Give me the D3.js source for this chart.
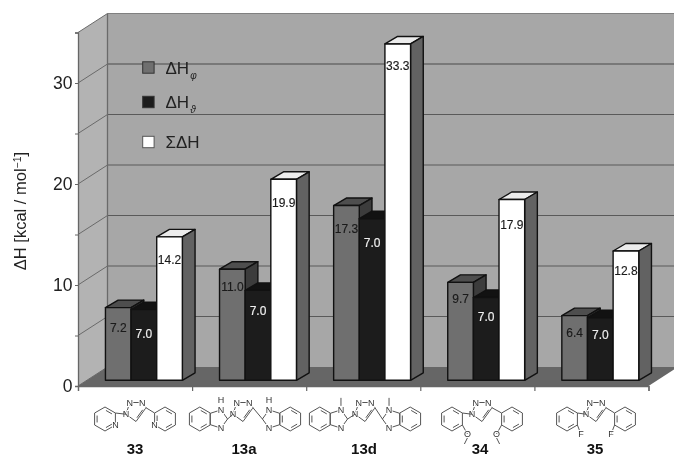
<!DOCTYPE html>
<html>
<head>
    <title>Enthalpy contributions</title>
    <style>
        html, body { margin: 0; padding: 0; background: #fff; }
        svg { display: block; filter: blur(0.4px); }
        text { font-family: "Liberation Sans", Arial, sans-serif; }
    </style>
    <script src="https://d3js.org/d3.v7.min.js"></script>
</head>
<body>
<div id="chart"></div>
<script>
// values
var categories = ["33", "13a", "13d", "34", "35"];
var seriesKeys = ["phi", "theta", "sum"];
var phiValues = [7.2, 11.0, 17.3, 9.7, 6.4];
var thetaValues = [7.0, 8.9, 16.0, 8.2, 6.2];   // drawn height of the black bars
var sumValues = [14.2, 19.9, 33.3, 17.9, 12.8];
var phiLabels = ["7.2", "11.0", "17.3", "9.7", "6.4"];
var thetaLabels = ["7.0", "7.0", "7.0", "7.0", "7.0"];   // printed on the bars as 7.0
var sumLabels = ["14.2", "19.9", "33.3", "17.9", "12.8"];
var yTicks = [0, 5, 10, 15, 20, 25, 30, 35];
var yTickLabels = ["0", "10", "20", "30"];

var width = 674, height = 457;
var x0 = 78, x1 = 648.5, y0 = 386;
var wallDx = 29.5, wallDy = -19;   // depth of the 3d box
var barShift = 0.3;                // where the bars stand inside that depth
var barDx = 12.7, barDy = -7.5;    // depth of one bar

var svg = d3.select("#chart").append("svg")
    .attr("width", width)
    .attr("height", height);

var x = d3.scaleBand().domain(categories).range([x0, x1]);
var xInner = d3.scaleBand().domain(seriesKeys).range([0, x.bandwidth()]).paddingOuter(0.725);
var y = d3.scaleLinear().domain([0, 35]).range([y0, y0 - 353.5]);

var colors = {
    phi: { front: "#6f6f6f", top: "#4e4e4e", side: "#3c3c3c" },
    theta: { front: "#1c1c1c", top: "#121212", side: "#1a1a1a" },
    sum: { front: "#ffffff", top: "#ececec", side: "#626262" }
};

function pts(a) { return a.map(function(p) { return p.join(","); }).join(" "); }

// walls and floor
svg.append("polygon").attr("fill", "#a7a7a7")
    .attr("points", pts([[x0 + wallDx, y(35) + wallDy], [width + 5, y(35) + wallDy], [width + 5, y0 + wallDy], [x0 + wallDx, y0 + wallDy]]));
svg.append("polygon").attr("fill", "#b3b3b3")
    .attr("points", pts([[x0, y(35)], [x0 + wallDx, y(35) + wallDy], [x0 + wallDx, y0 + wallDy], [x0, y0]]));
svg.append("polygon").attr("fill", "#666666")
    .attr("points", pts([[x0, y0], [x0 + wallDx, y0 + wallDy], [x1 + wallDx, y0 + wallDy], [x1, y0]]));

// gridlines
yTicks.forEach(function(t) {
    if (t === 0) return;
    svg.append("line")
        .attr("x1", x0 + wallDx).attr("x2", width + 5)
        .attr("y1", y(t) + wallDy).attr("y2", y(t) + wallDy)
        .attr("stroke", t === 35 ? "#808080" : (t === 30 ? "#4a4a4a" : "#5a5a5a"))
        .attr("stroke-width", 1.2);
    svg.append("line")
        .attr("x1", x0).attr("x2", x0 + wallDx)
        .attr("y1", y(t)).attr("y2", y(t) + wallDy)
        .attr("stroke", "#6a6a6a").attr("stroke-width", 1);
});
svg.append("line")
    .attr("x1", x0 + wallDx).attr("x2", x0 + wallDx)
    .attr("y1", y(35) + wallDy).attr("y2", y0 + wallDy)
    .attr("stroke", "#6a6a6a").attr("stroke-width", 1.3);
svg.append("line")
    .attr("x1", x0).attr("x2", x0 + wallDx)
    .attr("y1", y0).attr("y2", y0 + wallDy)
    .attr("stroke", "#666").attr("stroke-width", 1);

// axes
var yAxis = d3.axisLeft(y).tickValues(yTicks).tickSize(3).tickFormat(function(d) {
    return yTickLabels.indexOf(String(d)) >= 0 ? d : "";
});
var yG = svg.append("g").attr("transform", "translate(" + x0 + ",0)").call(yAxis);
yG.select(".domain").attr("stroke", "#666").attr("stroke-width", 1.3);
yG.selectAll("line").attr("stroke", "#666");
yG.selectAll("text")
    .attr("x", -5.5)
    .style("font-size", "17.5px")
    .style("font-family", '"Liberation Sans", Arial, sans-serif')
    .attr("fill", "#222");

var xEdge = d3.scaleLinear().domain([0, categories.length]).range([x0, x1]);
var xAxis = d3.axisBottom(xEdge).tickValues(d3.range(categories.length + 1)).tickSize(5).tickSizeOuter(5).tickFormat("");
var xG = svg.append("g").attr("transform", "translate(0," + y0 + ")").call(xAxis);
xG.select(".domain").attr("stroke", "#666").attr("stroke-width", 1.3);
xG.selectAll("line").attr("stroke", "#666").attr("stroke-width", 1.2);

// bars
var seriesValues = { phi: phiValues, theta: thetaValues, sum: sumValues };
var seriesLabels = { phi: phiLabels, theta: thetaLabels, sum: sumLabels };
var shiftX = wallDx * barShift, shiftY = wallDy * barShift;

categories.forEach(function(cat, i) {
    seriesKeys.forEach(function(key) {
        var left = x(cat) + xInner(key) + shiftX;
        var right = left + xInner.bandwidth();
        var top = y(seriesValues[key][i]) + shiftY;
        var bottom = y(0) + shiftY;
        var g = svg.append("g")
            .attr("stroke", "#111").attr("stroke-width", 1.4).attr("stroke-linejoin", "round");
        g.append("polygon").attr("fill", colors[key].top)
            .attr("points", pts([[left, top], [left + barDx, top + barDy], [right + barDx, top + barDy], [right, top]]));
        g.append("polygon").attr("fill", colors[key].side)
            .attr("points", pts([[right, top], [right + barDx, top + barDy], [right + barDx, bottom + barDy], [right, bottom]]));
        g.append("rect").attr("fill", colors[key].front)
            .attr("x", left).attr("y", top)
            .attr("width", right - left).attr("height", bottom - top);
    });
});

// bar labels sit a little differently on every bar in the original
var labelDrop = [[20, 24, 23], [18, 20, 23], [23, 24, 22], [16, 19, 25], [17, 17, 20]];
categories.forEach(function(cat, i) {
    seriesKeys.forEach(function(key, k) {
        var ink = key === "theta" ? "#f0f0f0" : "#1a1a1a";
        svg.append("text")
            .attr("x", x(cat) + xInner(key) + shiftX + xInner.bandwidth() / 2)
            .attr("y", y(seriesValues[key][i]) + shiftY + labelDrop[i][k])
            .attr("dy", "0.35em")
            .attr("text-anchor", "middle")
            .attr("font-size", 12)
            .attr("fill", ink)
            .attr("stroke", ink).attr("stroke-width", 0.15)
            .text(seriesLabels[key][i]);
    });
});

// legend
var legendNames = ["ΔH", "ΔH", "ΣΔH"];
var legendSubs = ["φ", "ϑ", ""];
var legendRows = [67.5, 102, 142];
seriesKeys.forEach(function(key, i) {
    svg.append("rect")
        .attr("x", 142.7).attr("y", legendRows[i] - 5.7)
        .attr("width", 11.4).attr("height", 11.4)
        .attr("fill", colors[key].front)
        .attr("stroke", key === "sum" ? "#555" : "#333").attr("stroke-width", 1);
    var t = svg.append("text")
        .attr("x", 165.5).attr("y", legendRows[i] + 6)
        .attr("font-size", 17).attr("fill", "#222")
        .text(legendNames[i]);
    if (legendSubs[i]) {
        t.append("tspan")
            .attr("dy", 5).attr("dx", 1)
            .attr("font-size", 10).attr("font-style", "italic")
            .text(legendSubs[i]);
    }
});

// y axis title
var title = svg.append("text")
    .attr("transform", "translate(26,211) rotate(-90)")
    .attr("text-anchor", "middle")
    .attr("font-size", 16.5)
    .attr("fill", "#222")
    .text("ΔH [kcal / mol");
title.append("tspan").attr("dy", -5).attr("font-size", 10.5).text("−1");
title.append("tspan").attr("dy", 5).text("]");

// compound names
var nameX = [135, 244, 364, 480, 595];
categories.forEach(function(cat, i) {
    svg.append("text")
        .attr("x", nameX[i]).attr("y", 453.5)
        .attr("text-anchor", "middle")
        .attr("font-size", 15).attr("font-weight", "bold")
        .attr("fill", "#111")
        .text(cat);
});

// structure drawings under the axis
var mol = svg.append("g")
    .attr("stroke", "#555").attr("stroke-width", 1).attr("fill", "none");

function vertex(cx, cy, r, deg) {
    var a = deg * Math.PI / 180;
    return [cx + r * Math.cos(a), cy + r * Math.sin(a)];
}
function bond(a, b) {
    mol.append("line").attr("x1", a[0]).attr("y1", a[1]).attr("x2", b[0]).attr("y2", b[1]);
}
function atom(p, s) {
    mol.append("text")
        .attr("x", p[0]).attr("y", p[1]).attr("dy", "0.35em")
        .attr("text-anchor", "middle")
        .attr("font-size", 9)
        .attr("fill", "#333").attr("stroke", "#fff").attr("stroke-width", 2)
        .attr("paint-order", "stroke")
        .text(s);
}
function ring(cx, cy, r, angles, doubles) {
    var v = angles.map(function(a) { return vertex(cx, cy, r, a); });
    mol.append("polygon").attr("points", pts(v));
    doubles.forEach(function(k) {
        var a = v[k], b = v[(k + 1) % v.length];
        var inner = function(p) { return [cx + (p[0] - cx) * 0.76, cy + (p[1] - cy) * 0.76]; };
        var ia = inner(a), ib = inner(b);
        bond([ia[0] + (ib[0] - ia[0]) * 0.12, ia[1] + (ib[1] - ia[1]) * 0.12],
             [ib[0] + (ia[0] - ib[0]) * 0.12, ib[1] + (ia[1] - ib[1]) * 0.12]);
    });
    return v;
}
var hexAngles = [-90, -30, 30, 90, 150, 210];
var ringY = 419, hexR = 12, fiveR = 9.6;

function triazole(cx) {
    var v = ring(cx, 411, 10.5, [162, -126, -54, -18, 90], [3]);
    atom(v[0], "N"); atom(v[1], "N"); atom(v[2], "N");
    return { n: v[0], c: v[3] };
}
// side -1 is left of the triazole, +1 is right
function aryl(cx, side, tri, sub, ringN) {
    ring(cx, ringY, hexR, hexAngles, [0, 2, 4]);
    var at = vertex(cx, ringY, hexR, side < 0 ? -30 : 210);
    var lo = vertex(cx, ringY, hexR, side < 0 ? 30 : 150);
    bond(at, side < 0 ? tri.n : tri.c);
    if (ringN) atom(lo, "N");
    if (sub === "F") {
        var f = [lo[0] + (side < 0 ? 3.5 : -3.5), lo[1] + 9];
        bond(lo, f); atom(f, "F");
    }
    if (sub === "O") {
        var o = [lo[0] + (side < 0 ? 5 : -5), lo[1] + 9];
        bond(lo, o); atom(o, "O");
        bond([o[0], o[1] + 4], [o[0] + (side < 0 ? -3 : 3), o[1] + 10]);
    }
}
function benzimidazole(fx, side, tri, sub) {
    var out = side < 0 ? 180 : 0;      // fused edge points away from the triazole
    var v = ring(fx, ringY, fiveR, [out + 180, out + 108, out + 36, out - 36, out - 108], []);
    ring(fx + side * 18.2, ringY, hexR, hexAngles, [0, 2, 4]);
    bond(v[0], side < 0 ? tri.n : tri.c);
    // the upper and lower atoms of the five ring are both nitrogens
    var upper = vertex(fx, ringY, fiveR, side < 0 ? -72 : -108);
    var lower = vertex(fx, ringY, fiveR, side < 0 ? 72 : 108);
    atom(lower, "N");
    if (sub === "H") {
        atom(upper, "N");
        atom([upper[0], upper[1] - 10], "H");
    } else {
        bond([upper[0], upper[1] - 4], [upper[0], upper[1] - 12]);
        atom(upper, "N");
    }
}

var triX = [136, 243, 365, 482, 596];
var t33 = triazole(triX[0]);
aryl(105, -1, t33, null, true);
aryl(165, 1, t33, null, true);

var t13a = triazole(triX[1]);
benzimidazole(triX[1] - 25, -1, t13a, "H");
benzimidazole(triX[1] + 29, 1, t13a, "H");

var t13d = triazole(triX[2]);
benzimidazole(triX[2] - 27, -1, t13d, "Me");
benzimidazole(triX[2] + 27, 1, t13d, "Me");

var t34 = triazole(triX[3]);
aryl(452, -1, t34, "O", false);
aryl(512, 1, t34, "O", false);

var t35 = triazole(triX[4]);
aryl(567, -1, t35, "F", false);
aryl(625, 1, t35, "F", false);
</script>
</body>
</html>
